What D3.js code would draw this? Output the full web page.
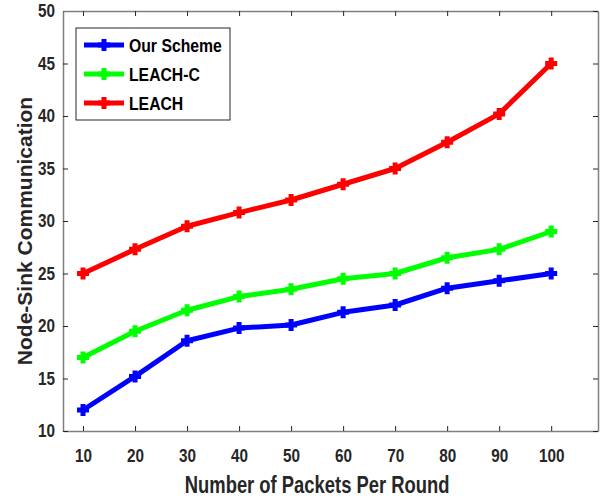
<!DOCTYPE html>
<html>
<head>
<meta charset="utf-8">
<script src="https://cdn.jsdelivr.net/npm/d3@7"></script>
<style>
  body { margin: 0; background: #fff; }
  text { font-family: "Liberation Sans", Arial, sans-serif; font-weight: bold; }
</style>
</head>
<body>
<div id="chart"></div>
<script>
// Data
var packets = [10, 20, 30, 40, 50, 60, 70, 80, 90, 100];
var ourScheme = [12, 15.2, 18.6, 19.8, 20.1, 21.3, 22, 23.6, 24.3, 25];
var leachC = [17, 19.5, 21.5, 22.8, 23.5, 24.5, 25, 26.5, 27.3, 29];
var leach = [25, 27.3, 29.5, 30.8, 32, 33.5, 35, 37.5, 40.2, 45];
var seriesNames = ["Our Scheme", "LEACH-C", "LEACH"];
var seriesColors = ["#0000ff", "#00ff00", "#ff0000"];
var yTicks = [10, 15, 20, 25, 30, 35, 40, 45, 50];

var svgWidth = 600;
var svgHeight = 499;
var margin = { top: 11, right: 2, bottom: 68, left: 63 };
var width = svgWidth - margin.left - margin.right;
var height = svgHeight - margin.top - margin.bottom;

var svg = d3.select("#chart")
    .append("svg")
    .attr("width", svgWidth)
    .attr("height", svgHeight);

var chartGroup = svg.append("g")
    .attr("transform", `translate(${margin.left}, ${margin.top})`);

// Scales
var xScale = d3.scaleLinear().domain([6.15, 109]).range([0, width]);
var yScale = d3.scaleLinear().domain([10, 50]).range([height, 0]);

var axisColor = "#262626";
var tickLen = 5;

// Axes (ticks inside, box on)
var xAxis = d3.axisBottom(xScale).tickValues(packets).tickSizeInner(-tickLen).tickSizeOuter(0).tickPadding(18);
var yAxis = d3.axisLeft(yScale).tickValues(yTicks).tickSizeInner(-tickLen).tickSizeOuter(0).tickPadding(8);
var xTop = d3.axisTop(xScale).tickValues(packets).tickSizeInner(-tickLen).tickSizeOuter(0).tickFormat("");
var yRight = d3.axisRight(yScale).tickValues(yTicks).tickSizeInner(-tickLen).tickSizeOuter(0).tickFormat("");

function styleAxis(g) {
    g.select(".domain").attr("stroke", "#7f7f7f").attr("stroke-width", 1.5);
    g.selectAll(".tick line").attr("stroke", axisColor).attr("stroke-width", 1);
    g.selectAll(".tick text").attr("fill", axisColor).attr("font-size", "18px");
}

chartGroup.append("g").attr("transform", `translate(0, ${height})`).call(xAxis).call(styleAxis)
    .selectAll(".tick text").attr("transform", "scale(0.85,1)");
chartGroup.append("g").call(yAxis).call(styleAxis)
    .selectAll(".tick text").attr("x", 0).attr("transform", "translate(-8,0) scale(0.85,1)");
chartGroup.append("g").call(xTop).call(styleAxis);
chartGroup.append("g").attr("transform", `translate(${width}, 0)`).call(yRight).call(styleAxis);

// Lines
var allSeries = [ourScheme, leachC, leach];
var line = d3.line()
    .x((d, i) => xScale(packets[i]))
    .y(d => yScale(d));

var plus = "M-6,0H6M0,-6V6";

allSeries.forEach(function(values, s) {
    chartGroup.append("path")
        .datum(values)
        .attr("d", line)
        .attr("fill", "none")
        .attr("stroke", seriesColors[s])
        .attr("stroke-width", 5)
        .attr("stroke-linejoin", "round");

    chartGroup.selectAll(".m" + s)
        .data(values)
        .enter()
        .append("path")
        .attr("class", "m" + s)
        .attr("d", plus)
        .attr("transform", (d, i) => `translate(${xScale(packets[i])}, ${yScale(d)})`)
        .attr("stroke", seriesColors[s])
        .attr("stroke-width", 5);
});

// Legend
var legend = svg.append("g").attr("transform", "translate(76, 28)");
legend.append("rect")
    .attr("width", 154)
    .attr("height", 92)
    .attr("fill", "#fff")
    .attr("stroke", axisColor)
    .attr("stroke-width", 1);

seriesNames.forEach(function(name, s) {
    var y = 17 + s * 29;
    legend.append("line")
        .attr("x1", 8).attr("x2", 48)
        .attr("y1", y).attr("y2", y)
        .attr("stroke", seriesColors[s])
        .attr("stroke-width", 5);
    legend.append("path")
        .attr("d", plus)
        .attr("transform", `translate(28, ${y})`)
        .attr("stroke", seriesColors[s])
        .attr("stroke-width", 5);
    legend.append("text")
        .attr("transform", `translate(53, ${y + 7}) scale(0.83,1)`)
        .attr("font-size", "19px")
        .attr("fill", "#000")
        .text(name);
});

// Axis labels
svg.append("text")
    .attr("transform", `translate(${margin.left + xScale(55)}, 493) scale(0.8,1)`)
    .attr("text-anchor", "middle")
    .attr("font-size", "23px")
    .attr("fill", axisColor)
    .text("Number of Packets Per Round");

svg.append("text")
    .attr("transform", `translate(32, 231) rotate(-90)`)
    .attr("text-anchor", "middle")
    .attr("font-size", "21px")
    .attr("fill", axisColor)
    .text("Node-Sink Communication");
</script>
</body>
</html>
